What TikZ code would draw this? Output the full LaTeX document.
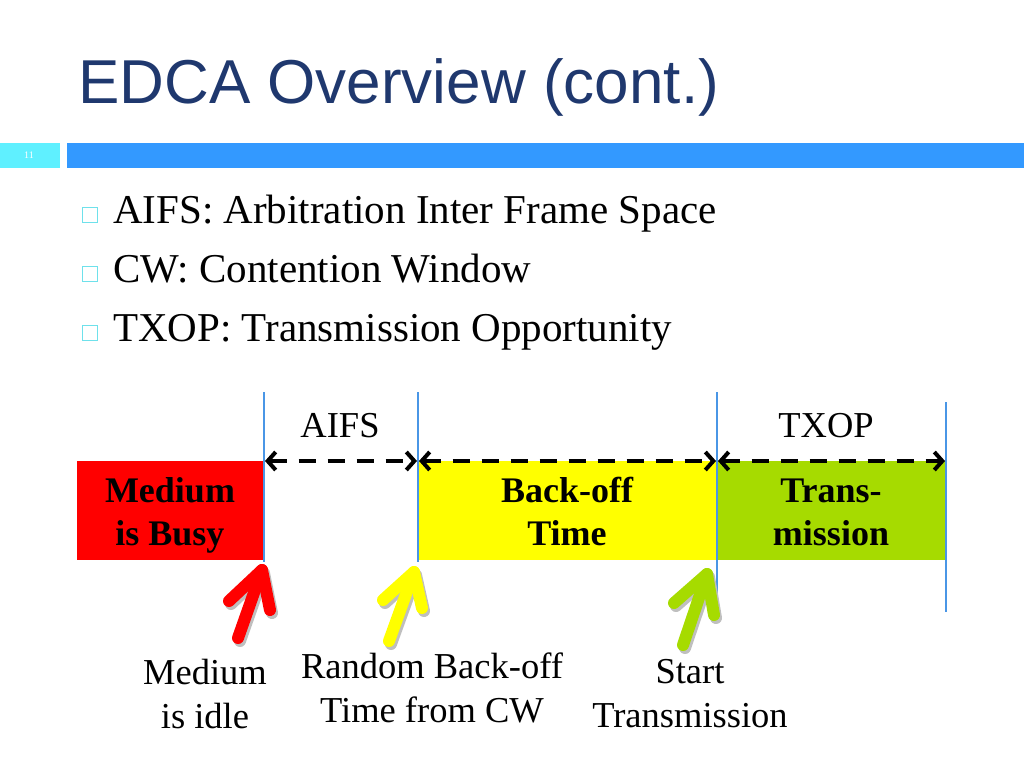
\documentclass[tikz,border=0pt]{standalone}
\usepackage{fontspec}
\setmainfont{Liberation Serif}
\newfontfamily\titlefont{Liberation Sans}
\usetikzlibrary{arrows.meta}
\definecolor{titleblue}{RGB}{31,56,110}
\definecolor{barcyan}{RGB}{95,240,255}
\definecolor{barblue}{RGB}{51,153,255}
\definecolor{bulletcyan}{RGB}{110,225,235}
\definecolor{vline}{RGB}{74,150,230}
\definecolor{busyred}{RGB}{255,0,0}
\definecolor{bkyellow}{RGB}{255,255,0}
\definecolor{txgreen}{RGB}{166,219,0}
\tikzset{
  bullettext/.style={anchor=base west, inner sep=0pt, font=\fontsize{41}{49}\selectfont},
  bulletbox/.style={draw=bulletcyan, line width=1.4pt, minimum size=15pt, inner sep=0pt},
  slot/.style={draw=none, inner sep=0pt, anchor=north west},
  slottext/.style={inner sep=0pt, align=center, anchor=base, font=\fontsize{36}{43}\selectfont\bfseries},
  lbl/.style={inner sep=0pt, align=center, anchor=base, font=\fontsize{36.5}{44}\selectfont},
  tick/.style={draw=vline, line width=2.2pt},
  span/.style={draw=black, line width=4pt, dash pattern=on 17pt off 12pt, {Straight Barb[length=8pt,width=18pt,line width=4pt]}-{Straight Barb[length=8pt,width=18pt,line width=4pt]}, shorten <=1pt, shorten >=1pt},
  fat/.style={line width=12pt, line cap=round, line join=round},
  shade/.style={line width=12pt, line cap=round, line join=round, draw=black!25}
}
\begin{document}
\begin{tikzpicture}[x=1pt,y=-1pt]
\useasboundingbox (0,0) rectangle (1024,768);
% title
\node[anchor=base west, inner sep=0pt, text=titleblue, font=\titlefont\fontsize{62}{70}\selectfont] (title) at (78,103) {EDCA Overview (cont.)};
% bar
\fill[barcyan] (0,143) rectangle (60,168);
\fill[barblue] (67,143) rectangle (1024,168);
\node[text=white, font=\fontsize{10}{11}\selectfont, inner sep=0pt] (pg) at (29,155) {11};
% bullets
\node[bulletbox] (b1) at (90,215) {};
\node[bullettext] (t1) at (113,223) {AIFS: Arbitration Inter Frame Space};
\node[bulletbox] (b2) at (90,274) {};
\node[bullettext] (t2) at (113,282) {CW: Contention Window};
\node[bulletbox] (b3) at (90,333) {};
\node[bullettext] (t3) at (113,341) {TXOP: Transmission Opportunity};
% slots
\node[slot, fill=busyred, minimum width=187pt, minimum height=99pt] (busy) at (77,461) {};
\node[slot, fill=bkyellow, minimum width=298pt, minimum height=99pt] (backoff) at (418,461) {};
\node[slot, fill=txgreen, minimum width=230pt, minimum height=99pt] (trans) at (716,461) {};
\node[slottext] (busyt) at (170,545) {Medium\\is Busy};
\node[slottext] (backofft) at (567,545) {Back-off\\Time};
\node[slottext] (transt) at (831,545) {Trans-\\mission};
% ticks
\coordinate (v1t) at (264,392); \coordinate (v1b) at (264,562);
\coordinate (v2t) at (418,392); \coordinate (v2b) at (418,562);
\coordinate (v3t) at (717,392); \coordinate (v3b) at (717,612);
\coordinate (v4t) at (946,402); \coordinate (v4b) at (946,612);
\draw[tick] (v1t) -- (v1b);
\draw[tick] (v2t) -- (v2b);
\draw[tick] (v3t) -- (v3b);
\draw[tick] (v4t) -- (v4b);
% spans
\coordinate (s1) at (264,461); \coordinate (s2) at (418,461);
\coordinate (s3) at (717,461); \coordinate (s4) at (946,461);
\draw[span] (s1) -- (s2);
\draw[span] (s2) -- (s3);
\draw[span] (s3) -- (s4);
\node[lbl] (aifs) at (340,437) {AIFS};
\node[lbl] (txop) at (826,437) {TXOP};
% fat arrows
\coordinate (r0) at (238,638); \coordinate (r1) at (262,570);
\coordinate (rl) at (229,601); \coordinate (rr) at (270,610);
\draw[shade, transform canvas={xshift=2pt,yshift=-3pt}] (r0) -- (r1) (rl) -- (r1) -- (rr);
\draw[fat, busyred] (r0) -- (r1);
\draw[fat, busyred] (rl) -- (r1) -- (rr);
\coordinate (y0) at (389,641); \coordinate (y1) at (414,572);
\coordinate (yl) at (383,600); \coordinate (yr) at (422,608);
\draw[shade, transform canvas={xshift=2pt,yshift=-3pt}] (y0) -- (y1) (yl) -- (y1) -- (yr);
\draw[fat, bkyellow] (y0) -- (y1);
\draw[fat, bkyellow] (yl) -- (y1) -- (yr);
\coordinate (g0) at (683,645); \coordinate (g1) at (707,574);
\coordinate (gl) at (674,603); \coordinate (gr) at (714,615);
\draw[shade, transform canvas={xshift=2pt,yshift=-3pt}] (g0) -- (g1) (gl) -- (g1) -- (gr);
\draw[fat, txgreen] (g0) -- (g1);
\draw[fat, txgreen] (gl) -- (g1) -- (gr);
% bottom labels
\node[lbl] (idle) at (205,728) {Medium\\is idle};
\node[lbl] (rand) at (432,722) {Random Back-off\\Time from CW};
\node[lbl] (start) at (690,727) {Start\\Transmission};
\end{tikzpicture}
\end{document}
